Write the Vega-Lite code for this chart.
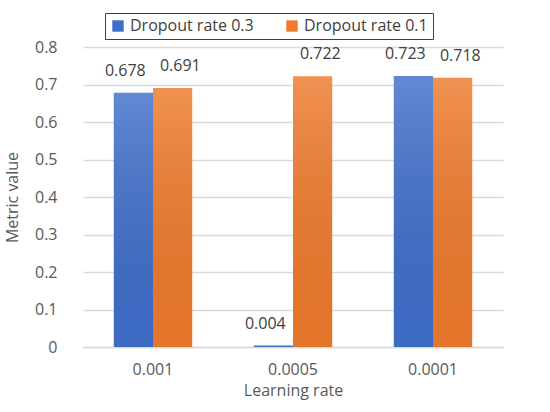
{
  "$schema": "https://vega.github.io/schema/vega-lite/v6.json",
  "autosize": "none",
  "width": 420,
  "height": 300,
  "padding": {"left": 83, "top": 47, "right": 47, "bottom": 65},
  "background": "white",
  "config": {
    "font": "Open Sans",
    "view": {"stroke": null}
  },
  "data": {
    "values": [
      {"lr": "0.001", "series": "Dropout rate 0.3", "value": 0.678},
      {"lr": "0.001", "series": "Dropout rate 0.1", "value": 0.691},
      {"lr": "0.0005", "series": "Dropout rate 0.3", "value": 0.004},
      {"lr": "0.0005", "series": "Dropout rate 0.1", "value": 0.722},
      {"lr": "0.0001", "series": "Dropout rate 0.3", "value": 0.723},
      {"lr": "0.0001", "series": "Dropout rate 0.1", "value": 0.718}
    ]
  },
  "encoding": {
    "x": {
      "field": "lr",
      "type": "nominal",
      "sort": ["0.001", "0.0005", "0.0001"],
      "scale": {"paddingInner": 0.44, "paddingOuter": 0.22},
      "axis": {
        "title": "Learning rate",
        "titleFontSize": 16,
        "titleFontWeight": "normal",
        "titleColor": "#595959",
        "titlePadding": 5,
        "labelAngle": 0,
        "labelFontSize": 16,
        "labelColor": "#595959",
        "labelPadding": 14,
        "ticks": false,
        "domainColor": "#d9d9d9",
        "domainWidth": 1.5
      }
    },
    "y": {
      "field": "value",
      "type": "quantitative",
      "scale": {"domain": [0, 0.8]},
      "axis": {
        "title": "Metric value",
        "titleFontSize": 16,
        "titleFontWeight": "normal",
        "titleColor": "#595959",
        "titlePadding": 14,
        "labelFontSize": 16,
        "labelColor": "#595959",
        "labelPadding": 26,
        "format": "~g",
        "tickCount": 8,
        "ticks": false,
        "domain": false,
        "gridColor": "#d9d9d9",
        "gridWidth": 1.5
      }
    }
  },
  "resolve": {"scale": {"xOffset": "independent"}},
  "layer": [
    {
      "encoding": {
        "xOffset": {
          "field": "series",
          "type": "nominal",
          "sort": ["Dropout rate 0.3", "Dropout rate 0.1"]
        }
      },
      "layer": [
        {
          "mark": {"type": "bar"},
          "encoding": {
            "color": {
              "field": "series",
              "type": "nominal",
              "sort": ["Dropout rate 0.3", "Dropout rate 0.1"],
              "scale": {"range": ["#3f6fca", "#ee7a2c"]},
              "legend": {
                "title": null,
                "orient": "none",
                "direction": "horizontal",
                "legendX": 22,
                "legendY": -34,
                "symbolType": "square",
                "symbolSize": 130,
                "symbolStrokeWidth": 0,
                "labelFontSize": 16,
                "labelColor": "#404040",
                "columnPadding": 30,
                "padding": 5,
                "strokeColor": "#404040",
                "fillColor": "white"
              }
            }
          }
        },
        {
          "mark": {
            "type": "bar",
            "fill": {
              "gradient": "linear",
              "x1": 0, "y1": 0, "x2": 0, "y2": 1,
              "stops": [
                {"offset": 0, "color": "rgba(255,255,255,0.18)"},
                {"offset": 1, "color": "rgba(0,0,0,0.04)"}
              ]
            }
          }
        }
      ]
    },
    {
      "mark": {"type": "text", "dy": -14, "fontSize": 16, "color": "#404040", "baseline": "bottom"},
      "encoding": {
        "xOffset": {
          "field": "series",
          "type": "nominal",
          "sort": ["Dropout rate 0.3", "Dropout rate 0.1"],
          "scale": {"range": [-16, 94]}
        },
        "text": {"field": "value", "type": "quantitative", "format": ".3f"}
      }
    }
  ]
}
